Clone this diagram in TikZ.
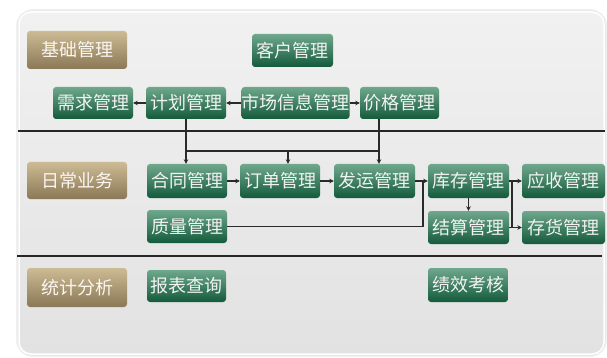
\documentclass[tikz,border=0pt]{standalone}
\usepackage{fontspec}
\newfontfamily\cjk{Noto Sans CJK SC}
\usetikzlibrary{arrows.meta}
\definecolor{gtop}{HTML}{6FA88C}
\definecolor{gbot}{HTML}{145A3C}
\definecolor{ttop}{HTML}{CDBB95}
\definecolor{tbot}{HTML}{8A7856}
\definecolor{linec}{HTML}{2A2A2A}
\definecolor{pantop}{HTML}{F1F1F1}
\definecolor{panbot}{HTML}{E2E2E2}
\begin{document}
\begin{tikzpicture}[x=1pt,y=-1pt,
  boxbase/.style={rounded corners=3pt, inner sep=0pt, font=\cjk\fontsize{18}{18}\selectfont},
  gbox/.style={boxbase, top color=gtop, bottom color=gbot, text=white!90!gray, minimum width=80pt, minimum height=33pt},
  tbox/.style={boxbase, top color=ttop, bottom color=tbot, text=white!93!brown, minimum width=100pt, minimum height=38pt},
  arr/.style={draw=linec, line width=1.2pt, -{Stealth[length=4.5pt,width=4.5pt]}},
  conn/.style={draw=linec, line width=1.2pt},
  sep/.style={draw=black!85, line width=1.3pt}]
\useasboundingbox (0,0) rectangle (607,358);
\fill[white] (0,0) rectangle (607,358);
% panel shadow and panel
\draw[black!6, line width=6pt, rounded corners=14pt] (19,12) rectangle (604,354);
\draw[black!10, line width=3pt, rounded corners=13pt] (19,12) rectangle (604,354);
\shade[top color=pantop, bottom color=panbot, rounded corners=12pt] (19,12) rectangle (604,354);
\draw[white, line width=1.5pt, rounded corners=12pt] (19,12) rectangle (604,354);
% separators
\draw[sep] (18,131) -- (605,131);
\draw[sep] (17,256) -- (602,256);
% category boxes
\node[tbox] (jichu) at (77,50) {基础管理};
\node[tbox, minimum height=37pt] (richang) at (77,180.5) {日常业务};
\node[tbox, minimum height=39pt] (tongji) at (77,287.5) {统计分析};
% row 1
\node[gbox, minimum width=81pt] (kehu) at (292.5,50.5) {客户管理};
\node[gbox, minimum height=32pt] (xuqiu) at (93,103) {需求管理};
\node[gbox, minimum height=32pt] (jihua) at (186,103) {计划管理};
\node[gbox, minimum height=32pt, minimum width=107pt] (shichang) at (295.5,103) {市场信息管理};
\node[gbox, minimum height=32pt, minimum width=79pt] (jiage) at (399.5,103) {价格管理};
% row 2
\node[gbox, minimum height=34pt] (hetong) at (187,181) {合同管理};
\node[gbox, minimum height=34pt] (dingdan) at (280,181) {订单管理};
\node[gbox, minimum height=34pt, minimum width=81pt] (fayun) at (374.5,181) {发运管理};
\node[gbox, minimum height=34pt, minimum width=81pt] (kucun) at (468.5,181) {库存管理};
\node[gbox, minimum height=34pt, minimum width=83pt] (yingshou) at (563.5,181) {应收管理};
\node[gbox] (zhiliang) at (187,226.5) {质量管理};
\node[gbox, minimum width=81pt] (jiesuan) at (468.5,227.5) {结算管理};
\node[gbox, minimum width=83pt] (cunhuo) at (563.5,227.5) {存货管理};
% row 3
\node[gbox, minimum height=32pt, minimum width=79pt] (baobiao) at (186.5,286) {报表查询};
\node[gbox, minimum height=34pt] (jixiao) at (468,285) {绩效考核};
% row 1 connectors
\draw[arr] (jihua.west) -- (xuqiu.east);
\draw[arr] (shichang.west) -- (jihua.east);
\draw[arr] (shichang.east) -- (jiage.west);
% down connectors
\coordinate (jv) at ([xshift=-20.5pt]jiage.south);
\coordinate (hl) at (186,151);
\coordinate (dv) at (288,151);
\draw[arr] (jihua.south) -- (jihua.south |- hetong.north);
\draw[arr] (jv) -- (jv |- fayun.north);
\draw[conn] (jihua.south |- hl) -- (jv |- hl);
\draw[arr] (dv) -- (dv |- dingdan.north);
% row 2 connectors
\draw[arr] (hetong.east) -- (dingdan.west);
\draw[arr] (dingdan.east) -- (fayun.west);
\draw[arr] (fayun.east) -- (kucun.west);
\coordinate (qv) at (423,181);
\draw[conn] (zhiliang.east) -- (qv |- zhiliang.east) -- (qv);
\draw[arr] (kucun.south) -- (jiesuan.north);
\draw[arr] (kucun.east) -- (yingshou.west);
\draw[arr] (jiesuan.east) -- (cunhuo.west);
\coordinate (kv) at (512,181);
\draw[conn] (kv) -- (kv |- jiesuan.east);
\end{tikzpicture}
\end{document}
